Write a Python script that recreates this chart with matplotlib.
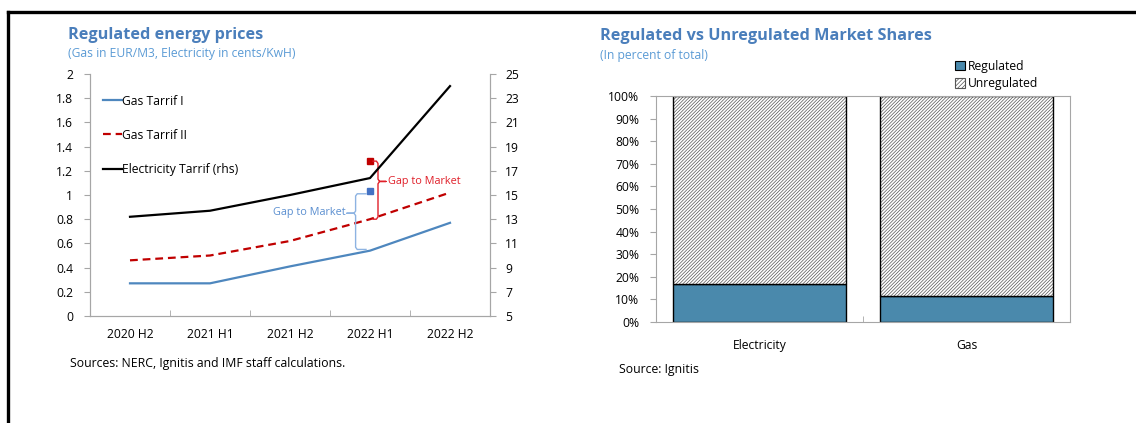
import numpy as np
import matplotlib as mpl
import matplotlib.pyplot as plt
from matplotlib.lines import Line2D
from matplotlib.patches import Patch

plt.rcParams['font.family'] = ['Open Sans', 'DejaVu Sans']
plt.rcParams['hatch.linewidth'] = 0.5

# left chart data
periods = ['2020 H2', '2021 H1', '2021 H2', '2022 H1', '2022 H2']
gas_tariff_1 = [0.27, 0.27, 0.41, 0.54, 0.77]
gas_tariff_2 = [0.46, 0.50, 0.62, 0.80, 1.02]
elec_tariff = [13.2, 13.7, 15.0, 16.4, 24.0]
gas_market_1 = 1.03   # 2022 H1
gas_market_2 = 1.28   # 2022 H1
market_idx = 3

# right chart data
sectors = ['Electricity', 'Gas']
regulated = [17.0, 11.5]
unregulated = [83.0, 88.5]

TITLE = '#4A7EBB'
SUB = '#5B9BD5'
GRAY = '#A6A6A6'
BLUE = '#4E87BE'
RED = '#C00000'
BAR = '#4A89AC'

fig = plt.figure(figsize=(11.36, 4.23), dpi=100)

# outer frame (left and top rules)
fig.add_artist(Line2D([8 / 1136, 8 / 1136], [0, 1 - 12 / 423], color='black', lw=2.4))
fig.add_artist(Line2D([8 / 1136, 1], [1 - 12 / 423, 1 - 12 / 423], color='black', lw=2.4))

# ---------- left chart ----------
ax = fig.add_axes([90 / 1136, 1 - 316 / 423, 400 / 1136, 242 / 423])
ax2 = ax.twinx()
x = np.arange(len(periods))

l1, = ax.plot(x, gas_tariff_1, color=BLUE, lw=1.6)
l2, = ax.plot(x, gas_tariff_2, color=RED, lw=1.6, dashes=(3.5, 2.2))
l3, = ax2.plot(x, elec_tariff, color='black', lw=1.6)

ax.set_xlim(-0.5, len(periods) - 0.5)
ax.set_ylim(0, 2)
ax.set_yticks(np.arange(0, 2.01, 0.2))
ax.set_yticklabels(['0', '0.2', '0.4', '0.6', '0.8', '1', '1.2', '1.4', '1.6', '1.8', '2'])
ax2.set_ylim(5, 25)
ax2.set_yticks(np.arange(5, 26, 2))

ax.set_xticks(x)
ax.set_xticklabels(periods)
ax.set_xticks(np.arange(0.5, len(periods) - 1, 1), minor=True)
ax.tick_params(axis='x', which='major', length=0, pad=9, labelsize=8.7)
ax.tick_params(axis='x', which='minor', direction='in', length=4, color=GRAY)
ax.tick_params(axis='y', length=4, color=GRAY, pad=8, labelsize=8.7)
ax2.tick_params(axis='y', length=4, color=GRAY, pad=7, labelsize=8.7)
for a in (ax, ax2):
    a.spines['top'].set_visible(False)
    for s in ('left', 'right', 'bottom'):
        a.spines[s].set_color(GRAY)

# market price markers and braces
def brace(axis, xb, lo, hi, xs, notch, color, frac=0.65):
    mid = lo + frac * (hi - lo)
    d = (hi - lo) * 0.04
    sgn = 1 if notch > xb else -1
    c = 0.02 * sgn
    px = [xs, xb - c, xb, xb, xb + c, notch, xb + c, xb, xb, xb - c, xs]
    py = [hi, hi, hi - d, mid + d, mid, mid, mid, mid - d, lo + d, lo, lo]
    axis.plot(px, py, color=color, lw=1.0)

ax.plot(market_idx, gas_market_2, 's', color=RED, ms=5)
ax.plot(market_idx, gas_market_1, 's', color='#4472C4', ms=5)
brace(ax, market_idx + 0.10, gas_tariff_2[market_idx], gas_market_2, market_idx + 0.04,
      market_idx + 0.2, '#E0202A')
brace(ax, market_idx - 0.18, gas_tariff_1[market_idx] + 0.01, gas_market_1 - 0.02,
      market_idx - 0.05, market_idx - 0.29, '#8DB3E2')
m2 = gas_tariff_2[market_idx] + 0.65 * (gas_market_2 - gas_tariff_2[market_idx])
m1 = gas_tariff_1[market_idx] + 0.65 * (gas_market_1 - gas_tariff_1[market_idx])
ax.text(market_idx + 0.22, m2, 'Gap to Market', color='#E0202A', fontsize=7.8,
        va='center', ha='left')
ax.text(market_idx - 0.31, m1, 'Gap to Market', color='#5B8FD0', fontsize=7.8,
        va='center', ha='right')

ax.legend([l1, l2, l3], ['Gas Tarrif I', 'Gas Tarrif II', 'Electricity Tarrif (rhs)'],
          loc='upper left', bbox_to_anchor=(0.02, 0.935), frameon=False,
          fontsize=8.7, handlelength=1.6, handletextpad=0.0, labelspacing=1.75,
          borderaxespad=0)

fig.text(68 / 1136, 1 - 35 / 423, 'Regulated energy prices', color=TITLE,
         fontsize=11.7, fontweight='bold', va='center')
fig.text(68 / 1136, 1 - 53 / 423, '(Gas in EUR/M3, Electricity in cents/KwH)',
         color=SUB, fontsize=8.7, va='center')
fig.text(70 / 1136, 1 - 363 / 423, 'Sources: NERC, Ignitis and IMF staff calculations.',
         fontsize=8.8, va='center')

# ---------- right chart ----------
bx = fig.add_axes([656 / 1136, 1 - 322 / 423, 414 / 1136, 226 / 423])
xs = np.arange(len(sectors))
bx.bar(xs, regulated, width=0.836, color=BAR, edgecolor='black', lw=1.0)
bx.bar(xs, unregulated, bottom=regulated, width=0.836, color='white',
       edgecolor='#555555', hatch='//////////', lw=0)
bx.bar(xs, unregulated, bottom=regulated, width=0.836, fill=False,
       edgecolor='black', lw=1.0)
bx.set_xlim(-0.5, len(sectors) - 0.5)
bx.set_ylim(0, 100)
bx.set_yticks(np.arange(0, 101, 10))
bx.set_yticklabels([f'{v}%' for v in range(0, 101, 10)])
bx.set_xticks(xs)
bx.set_xticklabels(sectors)
bx.set_xticks([0.5], minor=True)
bx.tick_params(axis='x', which='major', length=0, pad=12, labelsize=8.7)
bx.tick_params(axis='x', which='minor', direction='in', length=4, color=GRAY)
bx.tick_params(axis='y', length=4, color=GRAY, pad=8, labelsize=8.7)
for s in bx.spines.values():
    s.set_color(GRAY)

handles = [Patch(facecolor=BAR, edgecolor='black', lw=0.8),
           Patch(facecolor='white', edgecolor='#555555', hatch='////////', lw=0.8)]
fig.legend(handles, ['Regulated', 'Unregulated'], loc='upper left',
           bbox_to_anchor=(955 / 1136, 1 - 60 / 423), frameon=False, fontsize=8.7,
           handlelength=0.8, handleheight=0.8, handletextpad=0.3, labelspacing=0.35,
           borderaxespad=0, borderpad=0)

fig.text(600 / 1136, 1 - 36 / 423, 'Regulated vs Unregulated Market Shares', color=TITLE,
         fontsize=11.7, fontweight='bold', va='center')
fig.text(600 / 1136, 1 - 55 / 423, '(In percent of total)', color=SUB, fontsize=8.7,
         va='center')
fig.text(619 / 1136, 1 - 369 / 423, 'Source: Ignitis', fontsize=8.8, va='center')

fig.savefig('out.png', dpi=100)
